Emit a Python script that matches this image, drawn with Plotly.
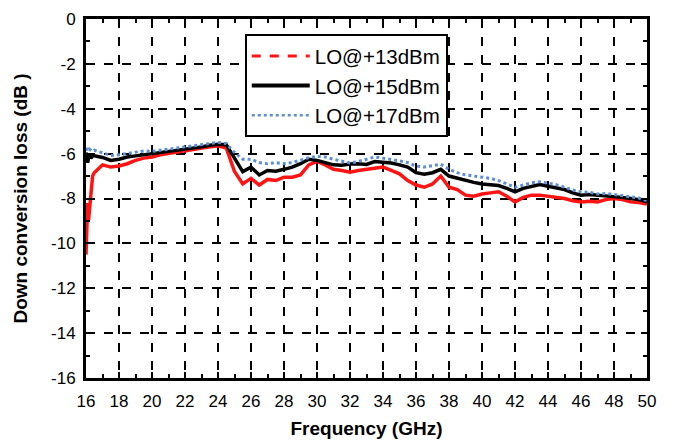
import plotly.graph_objects as go

freq_13 = [16.0, 16.05, 16.1, 16.15, 16.2, 16.25, 16.3, 16.4, 16.5, 17.0, 17.5, 18.0, 18.5, 19.0, 19.5,
           20.0, 20.5, 21.0, 21.5, 22.0, 22.5, 23.0, 23.5, 24.0, 24.5, 25.0, 25.5, 26.0, 26.5, 27.0,
           27.5, 28.0, 28.5, 29.0, 29.5, 30.0, 30.5, 31.0, 31.5, 32.0, 32.5, 33.0, 33.5, 34.0, 34.5,
           35.0, 35.5, 36.0, 36.5, 37.0, 37.5, 38.0, 38.5, 39.0, 39.5, 40.0, 40.5, 41.0, 41.5, 42.0,
           42.5, 43.0, 43.5, 44.0, 44.5, 45.0, 45.5, 46.0, 46.5, 47.0, 47.5, 48.0, 48.5, 49.0, 49.5, 50.0]
loss_13 = [-10.5, -9.2, -8.2, -9.0, -8.6, -8.0, -7.4, -7.0, -6.85, -6.5, -6.6, -6.55, -6.45, -6.3, -6.2,
           -6.15, -6.05, -6.0, -5.95, -5.9, -5.82, -5.75, -5.68, -5.65, -5.75, -6.8, -7.35, -7.1, -7.4, -7.15,
           -7.2, -7.05, -7.05, -6.95, -6.5, -6.35, -6.5, -6.7, -6.75, -6.83, -6.75, -6.7, -6.65, -6.6, -6.75,
           -6.9, -7.2, -7.4, -7.5, -7.35, -7.0, -7.5, -7.6, -7.85, -7.9, -7.8, -7.75, -7.7, -7.9, -8.15,
           -7.95, -7.85, -7.85, -7.9, -7.92, -8.0, -8.1, -8.15, -8.12, -8.15, -8.05, -8.0, -8.05, -8.15, -8.18, -8.25]

freq_15 = [16.0, 16.1, 16.2, 16.3, 16.4, 16.5, 17.0, 17.5, 18.0, 18.5, 19.0, 19.5,
           20.0, 20.5, 21.0, 21.5, 22.0, 22.5, 23.0, 23.5, 24.0, 24.5, 25.0, 25.5, 26.0, 26.5, 27.0,
           27.5, 28.0, 28.5, 29.0, 29.5, 30.0, 30.5, 31.0, 31.5, 32.0, 32.5, 33.0, 33.5, 34.0, 34.5,
           35.0, 35.5, 36.0, 36.5, 37.0, 37.5, 38.0, 38.5, 39.0, 39.5, 40.0, 40.5, 41.0, 41.5, 42.0,
           42.5, 43.0, 43.5, 44.0, 44.5, 45.0, 45.5, 46.0, 46.5, 47.0, 47.5, 48.0, 48.5, 49.0, 49.5, 50.0]
loss_15 = [-5.95, -6.4, -6.0, -6.2, -6.1, -6.1, -6.17, -6.3, -6.25, -6.15, -6.1, -6.05,
           -6.02, -5.95, -5.9, -5.85, -5.8, -5.75, -5.7, -5.63, -5.58, -5.6, -6.2, -6.8, -6.6, -6.95, -6.75,
           -6.78, -6.7, -6.6, -6.45, -6.25, -6.3, -6.4, -6.5, -6.52, -6.46, -6.45, -6.48, -6.35, -6.38, -6.42,
           -6.5, -6.6, -6.85, -6.92, -6.85, -6.7, -7.0, -7.1, -7.2, -7.28, -7.35, -7.38, -7.42, -7.55, -7.7,
           -7.55, -7.45, -7.38, -7.45, -7.52, -7.6, -7.75, -7.85, -7.82, -7.85, -7.88, -7.9, -7.95, -8.0, -8.05, -8.15]

freq_17 = freq_15
loss_17 = [-5.75, -5.9, -5.8, -5.85, -5.9, -5.85, -5.95, -6.08, -6.05, -6.0, -5.92, -5.88,
           -5.9, -5.85, -5.8, -5.75, -5.72, -5.68, -5.62, -5.55, -5.5, -5.55, -5.95, -6.25, -6.25, -6.4, -6.45,
           -6.4, -6.45, -6.4, -6.3, -6.18, -6.12, -6.15, -6.25, -6.35, -6.42, -6.35, -6.25, -6.15, -6.2, -6.25,
           -6.32, -6.4, -6.55, -6.6, -6.55, -6.47, -6.7, -6.85, -6.95, -7.0, -7.05, -7.1, -7.2, -7.35, -7.5,
           -7.4, -7.3, -7.25, -7.3, -7.38, -7.5, -7.62, -7.7, -7.72, -7.8, -7.78, -7.82, -7.88, -7.92, -7.98, -8.1]

series_names = ["LO@+13dBm", "LO@+15dBm", "LO@+17dBm"]
x_ticks = list(range(16, 51, 2))
y_ticks = list(range(-16, 1, 2))

RED = "#FF1414"
BLUE = "#5A8ED6"
FONT = "Liberation Sans, Arial"

fig = go.Figure()
# data traces
fig.add_trace(go.Scatter(x=freq_13, y=loss_13, mode="lines", line=dict(color=RED, width=3.5),
                         showlegend=False))
fig.add_trace(go.Scatter(x=freq_15, y=loss_15, mode="lines", line=dict(color="black", width=3.5),
                         showlegend=False))
fig.add_trace(go.Scatter(x=freq_17, y=loss_17, mode="lines", line=dict(color=BLUE, width=3, dash="dot"),
                         showlegend=False))
# legend entries
fig.add_trace(go.Scatter(x=[None], y=[None], mode="lines", name=series_names[0],
                         line=dict(color=RED, width=3, dash="dash")))
fig.add_trace(go.Scatter(x=[None], y=[None], mode="lines", name=series_names[1],
                         line=dict(color="black", width=4)))
fig.add_trace(go.Scatter(x=[None], y=[None], mode="lines", name=series_names[2],
                         line=dict(color=BLUE, width=2.5, dash="dot")))

axis_common = dict(
    showline=True, linecolor="black", linewidth=3, mirror="ticks",
    ticks="inside", ticklen=6, tickwidth=1.5, tickcolor="black",
    showgrid=True, gridcolor="black", gridwidth=1.5, griddash="dash",
    zeroline=False, automargin=False, ticklabeloverflow="allow",
    tickfont=dict(family=FONT, size=17, color="black"),
)

fig.update_xaxes(range=[16, 50], tickvals=x_ticks, ticktext=[str(v) for v in x_ticks],
                 ticklabelstandoff=6,
                 title=dict(text="<b>Frequency (GHz)</b>", font=dict(family=FONT, size=19, color="black"),
                            standoff=12),
                 minor=dict(dtick=1, ticks="inside", ticklen=4, tickcolor="black", showgrid=False),
                 **axis_common)
fig.update_yaxes(range=[-16, 0], tickvals=y_ticks, ticktext=[str(v) for v in y_ticks],
                 ticklabelstandoff=4,
                 title=dict(text="<b>Down conversion loss (dB )</b>", font=dict(family=FONT, size=19, color="black"),
                            standoff=19),
                 minor=dict(dtick=1, ticks="inside", ticklen=4, tickcolor="black", showgrid=False),
                 **axis_common)

fig.update_layout(
    width=666, height=436,
    margin=dict(l=78, r=27, t=11, b=66),
    paper_bgcolor="white", plot_bgcolor="white",
    font=dict(family=FONT, color="black"),
    legend=dict(x=0.283, y=0.958, xanchor="left", yanchor="top",
                bgcolor="white", bordercolor="black", borderwidth=2,
                font=dict(family=FONT, size=20.5, color="black"),
                itemwidth=58, tracegroupgap=0),
)

fig.write_html("out.html")
